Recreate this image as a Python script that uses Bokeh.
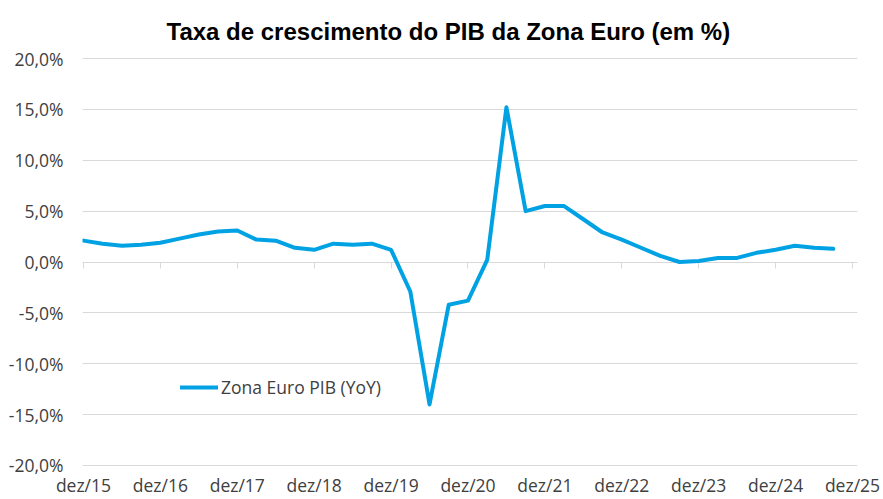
from bokeh.plotting import figure
from bokeh.models import (LinearAxis, FixedTicker, Range1d, Legend, LegendItem,
                          ColumnDataSource)
from bokeh.embed import file_html
from bokeh.resources import INLINE

title_text = "Taxa de crescimento do PIB da Zona Euro (em %)"
series_name = "Zona Euro PIB (YoY)"
x_tick_labels = ["dez/15", "dez/16", "dez/17", "dez/18", "dez/19", "dez/20",
                 "dez/21", "dez/22", "dez/23", "dez/24", "dez/25"]
y_ticks = [-20, -15, -10, -5, 0, 5, 10, 15, 20]
y_tick_labels = ["-20,0%", "-15,0%", "-10,0%", "-5,0%", "0,0%",
                 "5,0%", "10,0%", "15,0%", "20,0%"]
# quarterly YoY growth (%) from dez/15 onward
values = [2.1, 1.8, 1.6, 1.7, 1.9, 2.3, 2.7, 3.0, 3.1, 2.2,
          2.1, 1.4, 1.2, 1.8, 1.7, 1.8, 1.2, -2.9, -14.0, -4.2,
          -3.8, 0.2, 15.2, 5.0, 5.5, 5.5, 4.2, 2.9, 2.2, 1.4,
          0.6, 0.0, 0.1, 0.4, 0.4, 0.9, 1.2, 1.6, 1.4, 1.3]

quarters = list(range(len(values)))
x_ticks = [4 * k for k in range(len(x_tick_labels))]

LINE_COLOR = "#00A2E3"
GRID = "#D9D9D9"
TXT = "#404040"
FONT = "Open Sans"
FS = "17.5px"

src = ColumnDataSource(data=dict(q=quarters, v=values))

p = figure(width=883, height=499, output_backend="svg", toolbar_location=None,
           x_range=Range1d(-0.05, 40.26), y_range=Range1d(-20.1, 20.1),
           x_axis_location="below",
           min_border_left=82, min_border_right=26,
           min_border_top=57, min_border_bottom=33)
p.outline_line_color = None
p.background_fill_color = "white"

# title
p.title.text = title_text
p.title.text_font = "Liberation Sans"
p.title.text_font_style = "bold"
p.title.text_font_size = "24px"
p.title.text_color = "black"
p.title.align = "left"
p.title.offset = 84
p.title.standoff = 25

# grids
p.xgrid.visible = False
p.ygrid.ticker = FixedTicker(ticks=y_ticks)
p.ygrid.grid_line_color = GRID
p.ygrid.grid_line_width = 1

# y axis
ya = p.yaxis[0]
ya.ticker = FixedTicker(ticks=y_ticks)
ya.major_label_overrides = {t: l for t, l in zip(y_ticks, y_tick_labels)}
ya.axis_line_color = None
ya.major_tick_line_color = None
ya.minor_tick_line_color = None
ya.major_tick_out = 0
ya.major_tick_in = 0
ya.major_label_standoff = 19
ya.major_label_text_font = FONT
ya.major_label_text_font_size = FS
ya.major_label_text_color = TXT

# x labels below the frame
xa = p.xaxis[0]
xa.ticker = FixedTicker(ticks=x_ticks)
xa.major_label_overrides = {t: l for t, l in zip(x_ticks, x_tick_labels)}
xa.axis_line_color = None
xa.major_tick_line_color = None
xa.minor_tick_line_color = None
xa.major_tick_out = 0
xa.major_tick_in = 0
xa.major_label_standoff = 6
xa.major_label_text_font = FONT
xa.major_label_text_font_size = FS
xa.major_label_text_color = TXT

# x axis line + ticks at zero
tick_axis = LinearAxis(fixed_location=0, ticker=FixedTicker(ticks=x_ticks),
                       axis_line_color=GRID, axis_line_width=1,
                       major_tick_line_color=GRID, major_tick_out=6, major_tick_in=0,
                       minor_tick_line_color=None,
                       major_label_overrides={t: "" for t in x_ticks},
                       major_label_text_font_size="1px")
tick_axis.level = "underlay"
p.add_layout(tick_axis, "below")

r = p.line(x="q", y="v", source=src, line_color=LINE_COLOR, line_width=4,
           line_join="round", line_cap="round")

legend = Legend(items=[LegendItem(label=series_name, renderers=[r])],
                location=(98, 67), padding=0, margin=0, spacing=0,
                glyph_width=38, glyph_height=20, label_standoff=3,
                label_text_font=FONT, label_text_font_size=FS,
                label_text_color=TXT, background_fill_alpha=0,
                border_line_color=None)
p.add_layout(legend)

open("out.html", "w").write(file_html(p, INLINE))
